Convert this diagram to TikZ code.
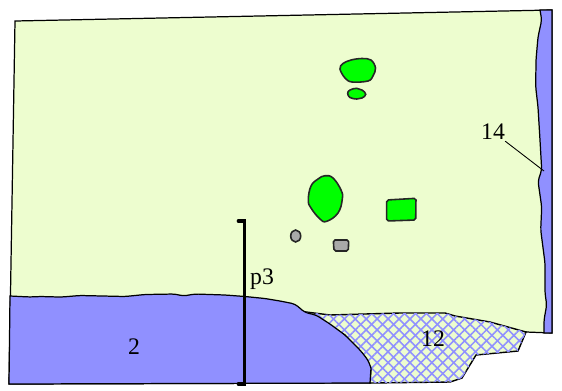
\documentclass[tikz,border=0pt]{standalone}
\usepackage{fontspec}
\setmainfont{Liberation Serif}
\usetikzlibrary{patterns.meta}
\definecolor{landcol}{HTML}{EDFDCF}
\definecolor{watercol}{HTML}{9090FF}
\definecolor{treecol}{HTML}{00FF00}
\definecolor{rockcol}{HTML}{A9A9A9}
\tikzset{
    land/.style={draw=black, line width=0.7pt, fill=landcol},
    water/.style={draw=black, line width=0.7pt, fill=watercol},
    marsh/.style={draw=black, line width=0.8pt, fill=landcol,
        postaction={pattern={Lines[angle=45,distance=4.4pt,line width=0.9pt]}, pattern color=watercol},
        postaction={pattern={Lines[angle=-45,distance=4.4pt,line width=0.9pt]}, pattern color=watercol}},
    tree/.style={draw=black!85, line width=0.9pt, fill=treecol},
    rock/.style={draw=black!85, line width=0.9pt, fill=rockcol},
    lbl/.style={inner sep=0pt, font=\fontsize{13.5}{15}\selectfont},
    profile/.style={line width=2.1pt, line cap=round} }
\begin{document}
\begin{tikzpicture}[x=0.02cm, y=-0.02cm]
    \useasboundingbox (0,0) rectangle (562,390);
    % ---- land
    \draw[land] (15,21) -- (552,10) -- (552,333) -- (526,332) -- (370,383) -- (9,384) -- cycle;
    % ---- water at the right edge
    \draw[water] (540,10) [rounded corners=2pt] -- (541.7,20) -- (538,37) -- (536,60) -- (535.7,87) -- (538,107)
        -- (540,140) -- (541.7,170) -- (538,181) -- (541.7,207) -- (540.7,230) -- (545,263)
        -- (545,293) -- (546.7,305) -- (544,320) [sharp corners] -- (544,333) -- (552,333) -- (552,10) -- cycle;
    % ---- marsh
    \draw[marsh] (306,312) -- (330,315) -- (400,313) -- (445,313) -- (455,316) -- (490,322) -- (526,332)
        -- (518,351) -- (476,355) -- (462,378) -- (450,382) -- (370,383) -- (371,368) -- (345,335) -- cycle;
    % ---- water at the bottom
    \draw[water] (10,296) [rounded corners=2pt] -- (30,297) -- (40,296.5) -- (59,297) -- (62,297) -- (80,295.5)
        -- (125,296.5) -- (145,294.5) -- (175,294) -- (183,296) -- (195,294) -- (225,295) -- (245,296.5)
        -- (265,298.5) -- (280,301) -- (295,304) -- (305,312.5) -- (316,315) -- (330,324) -- (345,335)
        -- (360,350) -- (368,360) [sharp corners] -- (371,368) -- (370,383) -- (9,384) -- cycle;
    % ---- trees and rocks
    \draw[tree] plot[smooth cycle, tension=0.6] coordinates {(340,69) (343,63.5) (351,60) (362,58.5) (371,60) (375.5,68) (373,76) (368,81) (352,82) (345,78)};
    \draw[tree] plot[smooth cycle, tension=0.7] coordinates {(347.7,93.3) (350,90) (356.7,88.3) (362,90) (365.7,94.3) (362,98) (356.7,99) (350,97.5)};
    \draw[tree] plot[smooth cycle, tension=0.7] coordinates {(308.3,200) (311,186) (318,179) (325,175.7) (333,178) (341,190) (342.3,199) (338,213) (326.7,221.3) (320,219) (311,208)};
    \draw[tree, rounded corners=1pt] (386.7,200) -- (416,198.3) -- (415.7,220) -- (386.7,221) -- cycle;
    \draw[rock] (295.7,236) ellipse [x radius=5, y radius=6];
    \draw[rock, rounded corners=1pt] (333.3,240) -- (348.7,240) -- (348.3,251) -- (334,251) -- cycle;
    % ---- profile bar
    \coordinate (ptop) at (244.5,221);
    \coordinate (pbot) at (244.5,384);
    \draw[profile] (238.5,221) -- (ptop) -- (pbot) -- (238.5,384);
    % ---- labels
    \node[lbl] (n2) at (134,347) {2};
    \node[lbl] (n12) at (433,339) {12};
    \node[lbl] (p3) at (262,279) {p3};
    \node[lbl] (n14) at (493,132) {14};
    \coordinate (n14end) at (544,171);
    \draw[line width=0.5pt] (n14.south east) ++(0,1) -- (n14end);
\end{tikzpicture}
\end{document}
